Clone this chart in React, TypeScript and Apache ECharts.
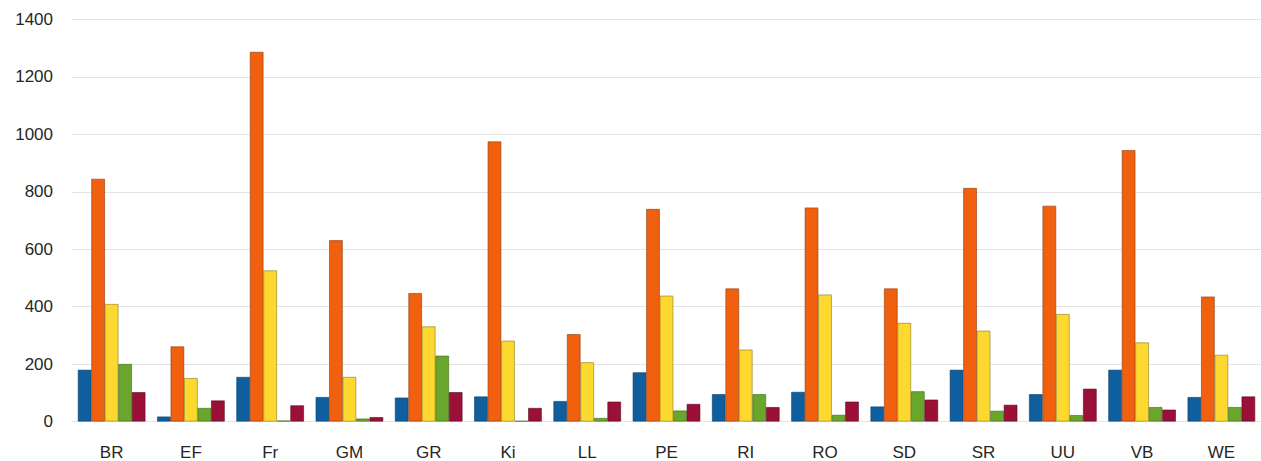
import React, { useEffect, useRef } from "react";
import * as echarts from "echarts";

const categories = ["BR", "EF", "Fr", "GM", "GR", "Ki", "LL", "PE", "RI", "RO", "SD", "SR", "UU", "VB", "WE"];
const seriesA = [180, 17, 155, 85, 83, 87, 71, 171, 95, 103, 52, 180, 95, 180, 85];
const seriesB = [845, 261, 1287, 631, 447, 975, 304, 740, 463, 745, 463, 813, 751, 945, 435];
const seriesC = [409, 151, 526, 155, 331, 281, 206, 438, 250, 442, 343, 316, 374, 275, 232];
const seriesD = [200, 47, 3, 10, 229, 2, 12, 38, 95, 23, 105, 37, 22, 50, 50];
const seriesE = [102, 73, 56, 15, 102, 47, 69, 61, 50, 69, 76, 58, 114, 41, 87];
const yTicks = [0, 200, 400, 600, 800, 1000, 1200, 1400];

const seriesList = [
  { name: "A", data: seriesA, color: "#0f5f9f", border: "#0a3e68" },
  { name: "B", data: seriesB, color: "#f0600f", border: "#8a3a10" },
  { name: "C", data: seriesC, color: "#fdd82e", border: "#8a7a20" },
  { name: "D", data: seriesD, color: "#6aa52c", border: "#3d6a18" },
  { name: "E", data: seriesE, color: "#9b1036", border: "#5a0a20" },
];

export default function App() {
  const ref = useRef<HTMLDivElement>(null);
  useEffect(() => {
    if (!ref.current) return;
    const chart = echarts.init(ref.current, null, { renderer: "svg" });
    chart.setOption({
      animation: false,
      backgroundColor: "#ffffff",
      grid: { left: 72, top: 19.5, width: 1200, height: 402 },
      xAxis: {
        type: "category",
        data: categories,
        axisLine: { show: false },
        axisTick: { show: false },
        axisLabel: {
          margin: 22,
          fontSize: 17,
          color: "#262626",
          fontFamily: "Liberation Sans, Arial, sans-serif",
        },
      },
      yAxis: {
        type: "value",
        min: yTicks[0],
        max: yTicks[yTicks.length - 1],
        interval: 200,
        axisLine: { show: false },
        axisTick: { show: false },
        splitLine: { lineStyle: { color: "#e4e4e4", width: 1 } },
        axisLabel: {
          margin: 19,
          fontSize: 17,
          color: "#262626",
          fontFamily: "Liberation Sans, Arial, sans-serif",
          formatter: (v: number) => String(v),
        },
      },
      series: seriesList.map((s) => ({
        name: s.name,
        type: "bar",
        data: s.data,
        barWidth: 13.5,
        barGap: "0%",
        itemStyle: { color: s.color, borderColor: s.border, borderWidth: 0.6 },
      })),
    });
    return () => chart.dispose();
  }, []);
  return (
    <div
      ref={ref}
      style={{ position: "fixed", left: 0, top: 0, width: 1261, height: 461 }}
    />
  );
}
